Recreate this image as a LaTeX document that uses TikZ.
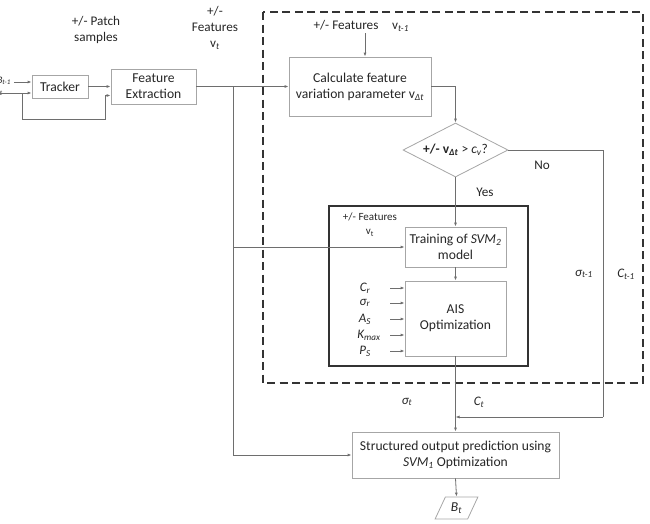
\documentclass[tikz,border=0pt]{standalone}
\usepackage{fontspec}
\setmainfont{Carlito}
\usetikzlibrary{arrows.meta,shapes.geometric}
\definecolor{boxgray}{HTML}{A6A6A6}
\definecolor{linegray}{HTML}{6E6E6E}
\definecolor{txt}{HTML}{262626}
\newcommand{\sbs}[1]{\textsubscript{#1}}
\begin{document}
\begin{tikzpicture}[x=1pt,y=-1pt,
  every node/.style={text=txt},
  box/.style={draw=boxgray, line width=0.8pt, align=center, inner sep=1pt, font=\fontsize{13.6}{16}\selectfont},
  ln/.style={draw=linegray, line width=0.8pt},
  arr/.style={ln, -{Latex[length=4pt,width=3pt]}},
  lbl/.style={font=\fontsize{13.2}{16}\selectfont, align=center, inner sep=0pt},
  slbl/.style={font=\fontsize{11}{14}\selectfont, align=center, inner sep=0pt},
  ilbl/.style={font=\fontsize{13}{15}\selectfont\itshape, inner sep=0pt}]
\useasboundingbox (0,0) rectangle (650,523);

% frames
\draw[draw=black!80, line width=1.2pt, dash pattern=on 8pt off 4.5pt] (263,12) rectangle (643,383);
\draw[draw=black!80, line width=1.5pt] (329,206) rectangle (528,366);

% boxes
\node[box, minimum width=56pt, minimum height=23pt] (tracker) at (60,86.5) {Tracker};
\node[box, minimum width=85pt, minimum height=35pt] (fe) at (153.5,86.5) {Feature\\Extraction};
\node[box, minimum width=142pt, minimum height=59pt] (calc) at (360,86.5) {Calculate feature\\variation parameter v\sbs{\itshape Δt}};
\node[box, shape=diamond, aspect=2.6, inner sep=0pt, minimum width=105pt, minimum height=54pt, font=\fontsize{13.5}{15}\selectfont] (dia) at (455.5,150) {\textbf{+/- v\sbs{\itshape Δt}} > \textit{c\sbs{v}}?};
\node[box, minimum width=101pt, minimum height=40pt] (train) at (455.5,247) {Training of \textit{SVM\sbs{2}}\\model};
\node[box, minimum width=101pt, minimum height=75pt] (ais) at (455.5,318.5) {AIS\\Optimization};
\node[box, minimum width=207pt, minimum height=46pt] (sop) at (455.5,455) {Structured output prediction using\\\textit{SVM\sbs{1}} Optimization};
\node[box, shape=trapezium, trapezium left angle=65, trapezium right angle=115, minimum width=38pt, minimum height=22pt, inner sep=0pt] (bt) at (456.5,508) {\textit{B\sbs{t}}};

% labels
\node[ilbl, anchor=east, font=\fontsize{10}{12}\selectfont\itshape] (lb) at (11,81) {B\sbs{t-1}};
\node[ilbl, anchor=east, font=\fontsize{10}{12}\selectfont\itshape] (li) at (3,92) {I\sbs{t}};
\node[lbl] (patch) at (96,30) {+/- Patch\\samples};
\node[lbl] (feat) at (215,28) {+/-\\Features\\v\sbs{\itshape t}};
\node[lbl] (featt1) at (346,25) {+/- Features};
\node[lbl, anchor=west] (vt1) at (392,27) {v\sbs{\itshape t-1}};
\node[slbl] (featin) at (370,225) {+/- Features\\v\sbs{t}};
\node[lbl] (no) at (542,165) {No};
\node[lbl] (yes) at (485,192) {Yes};
\node[ilbl] (sig1) at (584,274) {σ\sbs{t-1}};
\node[ilbl] (c1) at (626,274) {C\sbs{t-1}};
\node[ilbl] (sigt) at (407,402) {σ\sbs{t}};
\node[ilbl] (ct) at (479,402) {C\sbs{t}};
\node[ilbl] (pcr) at (365,288) {C\sbs{r}};
\node[ilbl] (psr) at (365,303) {σ\sbs{r}};
\node[ilbl] (pas) at (365,319) {A\sbs{S}};
\node[ilbl] (pkm) at (369,335) {K\sbs{max}};
\node[ilbl] (pps) at (365,351) {P\sbs{S}};

% coordinates
\coordinate (inB) at (14,82);
\coordinate (inI) at (0,93);
\coordinate (fbA) at (22,93);
\coordinate (fbB) at (22,119);
\coordinate (fbC) at (105,119);
\coordinate (fbD) at (105,95.5);
\coordinate (br) at (233,87);
\coordinate (brT) at (233,247);
\coordinate (brS) at (233,455);
\coordinate (topF) at (365,33);
\coordinate (noA) at (603,150);
\coordinate (noB) at (603,417);
\coordinate (noC) at (455.5,417);

% connectors
\draw[arr] (inB) -- (inB -| tracker.west);
\draw[arr] (inI) -- (inI -| tracker.west);
\draw[ln] (fbA) -- (fbB) -- (fbC) -- (fbD);
\draw[arr] (fbD) -- (fbD -| fe.west);
\draw[arr] (tracker.east) -- (fe.west |- tracker.east);
\draw[arr] (fe.east) -- (calc.west);
\draw[ln] (br) -- (brS);
\draw[arr] (brS) -- (sop.west);
\draw[arr] (brT) -- (train.west);
\draw[arr] (topF) -- (topF |- calc.north);
\draw[arr] (calc.east) -| (dia.north);
\draw[arr] (dia.south) -- (train.north);
\draw[arr] (train.south) -- (ais.north);
\draw[arr] (ais.south) -- (sop.north);
\draw[ln] (dia.east) -- (noA) -- (noB);
\draw[arr] (noB) -- (noC);
\draw[arr] (sop.south) -- (bt.north);
\foreach \n in {pcr,psr,pas,pkm,pps}{
  \coordinate (s\n) at (390,0 |- \n);
  \draw[arr] (s\n) -- (s\n -| ais.west);
}
\end{tikzpicture}
\end{document}
